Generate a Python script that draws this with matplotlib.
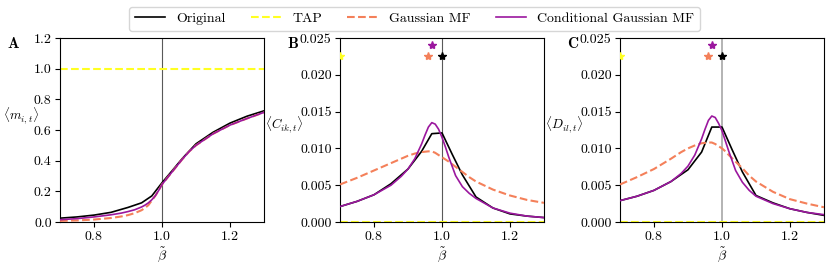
import numpy as np
import matplotlib
matplotlib.use("Agg")
import matplotlib.pyplot as plt
from matplotlib.ticker import FormatStrFormatter

plt.rcParams['font.family'] = 'serif'
plt.rcParams['font.serif'] = ['cmr10', 'DejaVu Serif']
plt.rcParams['mathtext.fontset'] = 'cm'
plt.rcParams['axes.formatter.use_mathtext'] = True
plt.rcParams['font.size'] = 10

labels = ['Original', 'TAP', 'Gaussian MF', 'Conditional Gaussian MF']
colors = ['k', '#ffff22', '#f4805a', '#9b179e']
styles = ['-', '--', '--', '-']

# original (simulated) curves are on a coarse grid, the models on a finer one
beta_orig = [0.70, 0.75, 0.80, 0.85, 0.90, 0.94, 0.97, 1.00, 1.03, 1.06, 1.10, 1.15, 1.20, 1.25, 1.30]
beta_mf = [0.70, 0.75, 0.80, 0.85, 0.88, 0.90, 0.92, 0.94, 0.95, 0.96, 0.97, 0.98, 0.99, 1.00,
           1.01, 1.02, 1.04, 1.06, 1.08, 1.10, 1.15, 1.20, 1.25, 1.30]

# panel A: mean magnetisation
m_orig = [0.025, 0.033, 0.045, 0.063, 0.095, 0.125, 0.17, 0.256, 0.335, 0.415, 0.51, 0.585, 0.645, 0.69, 0.725]
m_tap = [1.0] * len(beta_mf)
m_gauss = [0.007, 0.010, 0.016, 0.026, 0.036, 0.045, 0.058, 0.077, 0.092, 0.11, 0.14, 0.17, 0.205, 0.245,
           0.272, 0.30, 0.355, 0.41, 0.46, 0.50, 0.575, 0.632, 0.675, 0.715]
m_cond = [0.015, 0.022, 0.033, 0.047, 0.058, 0.068, 0.080, 0.098, 0.11, 0.125, 0.145, 0.17, 0.205, 0.245,
          0.272, 0.30, 0.355, 0.41, 0.46, 0.50, 0.575, 0.632, 0.675, 0.715]

# panel B: mean correlations
c_orig = [0.0021, 0.0028, 0.0037, 0.0052, 0.0072, 0.0096, 0.0120, 0.0121, 0.0092, 0.0064, 0.0034, 0.0019, 0.0011, 0.0008, 0.0006]
c_tap = [0.0] * len(beta_mf)
c_gauss = [0.0051, 0.0060, 0.0070, 0.0080, 0.0086, 0.0090, 0.0093, 0.0095, 0.00955, 0.0096, 0.0096, 0.0094, 0.0091, 0.0088,
           0.0085, 0.0082, 0.0075, 0.0068, 0.0061, 0.0055, 0.0044, 0.0036, 0.0030, 0.0026]
c_cond = [0.0021, 0.0028, 0.0037, 0.0050, 0.0062, 0.0072, 0.0086, 0.0106, 0.0118, 0.0129, 0.0135, 0.0133, 0.0126, 0.0115,
          0.0102, 0.0088, 0.0063, 0.0048, 0.0039, 0.0032, 0.0019, 0.0012, 0.0008, 0.0006]

# panel C: delayed correlations
d_orig = [0.0029, 0.0035, 0.0043, 0.0055, 0.0071, 0.0095, 0.0129, 0.0129, 0.0098, 0.0068, 0.0036, 0.0026, 0.0018, 0.0013, 0.0009]
d_tap = [0.0] * len(beta_mf)
d_gauss = [0.0051, 0.0061, 0.0072, 0.0086, 0.0095, 0.0100, 0.0104, 0.0107, 0.01075, 0.0108, 0.0108, 0.0106, 0.0103, 0.0100,
           0.0096, 0.0091, 0.0082, 0.0073, 0.0063, 0.0055, 0.0041, 0.0031, 0.0025, 0.0020]
d_cond = [0.0029, 0.0035, 0.0043, 0.0055, 0.0066, 0.0076, 0.0091, 0.0113, 0.0126, 0.0138, 0.0144, 0.0142, 0.0134, 0.0124,
          0.0110, 0.0096, 0.0070, 0.0054, 0.0043, 0.0035, 0.0025, 0.0018, 0.0013, 0.0010]

# location of the maxima (stars)
peak_beta = [1.00, 0.70, 0.96, 0.97]
peak_y = [0.0225, 0.0225, 0.0225, 0.024]

fig = plt.figure(figsize=(8.3, 2.62), dpi=100)
W, H = 830.0, 262.0
lefts = [60, 340, 620]
axes = [fig.add_axes([l / W, 1 - 222 / H, 204 / W, 184 / H]) for l in lefts]

panels = [
    (m_orig, m_tap, m_gauss, m_cond),
    (c_orig, c_tap, c_gauss, c_cond),
    (d_orig, d_tap, d_gauss, d_cond),
]
ylabels = [r'$\langle m_{i,t}\rangle$', r'$\langle C_{ik,t}\rangle$', r'$\langle D_{il,t}\rangle$']
ylabel_pos = [(-0.19, 0.58), (-0.27, 0.53), (-0.275, 0.53)]
letters = ['A', 'B', 'C']

for i, ax in enumerate(axes):
    ax.axvline(1.0, color='0.7' if i == 2 else '0.35', lw=1.4 if i == 2 else 0.8, zorder=0)
    for j, series in enumerate(panels[i]):
        x = beta_orig if j == 0 else beta_mf
        ax.plot(x, series, styles[j], color=colors[j], lw=1.5 if styles[j] == '--' else 1.2,
                label=labels[j], zorder=3 if j != 1 else 2)
    ax.set_xlim(0.7, 1.3)
    ax.set_xticks([0.8, 1.0, 1.2])
    ax.tick_params(pad=2.5)
    ax.set_xlabel(r'$\tilde{\beta}$', labelpad=1)
    ax.set_ylabel(ylabels[i], rotation=0, ha='center', va='center', fontsize=9.5)
    ax.yaxis.set_label_coords(*ylabel_pos[i])
    if i == 0:
        ax.set_ylim(0, 1.2)
        ax.set_yticks(np.arange(0, 1.21, 0.2))
        ax.yaxis.set_major_formatter(FormatStrFormatter('%.1f'))
    else:
        ax.set_ylim(0, 0.025)
        ax.set_yticks(np.arange(0, 0.0251, 0.005))
        ax.yaxis.set_major_formatter(FormatStrFormatter('%.3f'))
        for j in [1, 2, 3, 0]:
            ax.plot(peak_beta[j], peak_y[j], '*', color=colors[j], ms=6, zorder=4)
    ax.text(-0.23, 0.97, letters[i], transform=ax.transAxes, fontsize=11,
            ha='center', va='center', family=['cmb10', 'DejaVu Serif'])

handles, lbls = axes[0].get_legend_handles_labels()
fig.legend(handles, lbls, loc='upper center', ncol=4, bbox_to_anchor=(0.4995, 1.0),
           frameon=True, fontsize=10, handlelength=2.2, columnspacing=1.8)

fig.savefig('out.png', dpi=100)
